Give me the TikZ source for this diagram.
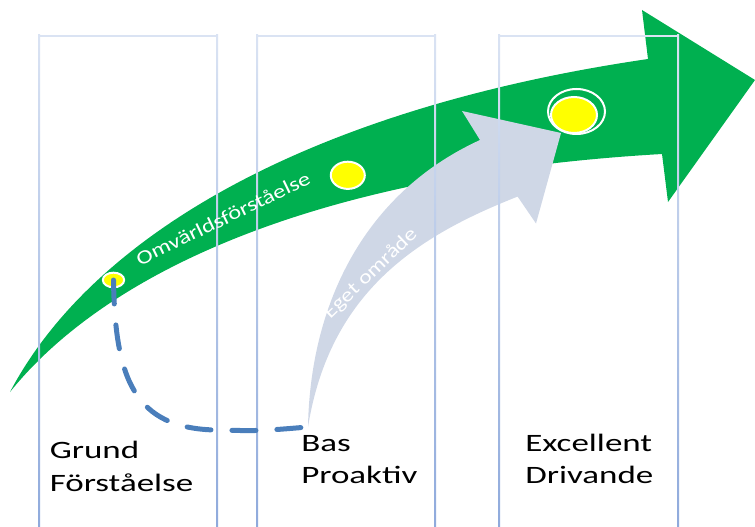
\documentclass[tikz,border=0pt]{standalone}
\usepackage{fontspec}
\setmainfont{Carlito}
\usetikzlibrary{shapes.geometric}
\definecolor{arrowgreen}{RGB}{0,176,80}
\definecolor{arrowgrey}{RGB}{207,215,230}
\definecolor{dotyellow}{RGB}{255,255,0}
\definecolor{dashblue}{RGB}{74,126,187}
\definecolor{boxtop}{RGB}{218,227,243}
\definecolor{boxbottom}{RGB}{143,170,220}
\newcommand{\widetext}[2]{\scalebox{#1}[1]{#2}}
\begin{document}
\begin{tikzpicture}[x=0.75pt,y=-0.75pt,
  dot/.style={ellipse, fill=dotyellow, draw=white, line width=1.5pt, inner sep=0pt},
  ring/.style={ellipse, draw=white, line width=1.5pt, inner sep=0pt},
  stagetext/.style={font=\fontsize{18.75}{24}\selectfont, text=black, inner sep=0pt, anchor=base west},
  bandtext/.style={font=\fontsize{14.7}{17}\selectfont, text=white, inner sep=0pt, anchor=base},
  dashpath/.style={dashblue, line width=3.75pt, line cap=round, dash pattern=on 18pt off 15.75pt}]
\useasboundingbox (0,0) rectangle (755,527);
% green arrow
\fill[arrowgreen] (10,392) .. controls (90,240) and (300,110) .. (648,59) -- (642,10) -- (755,80) -- (668,202) -- (662,154) .. controls (300,175) and (100,280) .. (10,392) -- cycle;
% grey arrow
\coordinate (gb) at (308,427);
\fill[arrowgrey] (gb) .. controls (310,310) and (360,195) .. (480,140) -- (462,111) -- (561,133) -- (536,223.5) -- (517.6,196.6) .. controls (420,235) and (330,290) .. (gb) -- cycle;
% stage columns
\foreach \l/\r in {39/217, 257/435, 499/678} {
  \draw[boxtop, line width=1.5pt] (\l,36) -- (\r,36);
  \shade[top color=boxtop, bottom color=boxbottom] (\l-1,35) rectangle (\l+1,527);
  \shade[top color=boxtop, bottom color=boxbottom] (\r-1,35) rectangle (\r+1,527);
}
% dots
\node[dot, minimum width=16pt, minimum height=11pt] (d1) at (113.5,280) {};
\node[dot, minimum width=25.5pt, minimum height=20.4pt] (d2) at (347.8,175.3) {};
\node[ring, minimum width=42.75pt, minimum height=33.75pt] (d3r) at (576.5,111.5) {};
\node[dot, minimum width=34.5pt, minimum height=27pt] (d3) at (574,115) {};
% dashed connector
\draw[dashpath] (d1.center) .. controls (115,380) and (135,428) .. (215,430) .. controls (260,431) .. (gb);
% texts
\node[stagetext] (g1) at (49.5,458.3) {\widetext{1.4}{Grund}};
\node[stagetext] (g2) at (49.5,491.7) {\widetext{1.4}{Förståelse}};
\node[stagetext] (b1) at (301,451) {\widetext{1.4}{Bas}};
\node[stagetext] (b2) at (301,483.3) {\widetext{1.4}{Proaktiv}};
\node[stagetext] (e1) at (525,451.7) {\widetext{1.4}{Excellent}};
\node[stagetext] (e2) at (525,483.3) {\widetext{1.4}{Drivande}};
\node[bandtext, rotate=25.8] (om) at (226,224.5) {\widetext{1.25}{Omvärldsförståelse}};
\node[bandtext, rotate=43.8] (eg) at (374.2,277.5) {\widetext{1.2}{Eget område}};
\end{tikzpicture}
\end{document}
